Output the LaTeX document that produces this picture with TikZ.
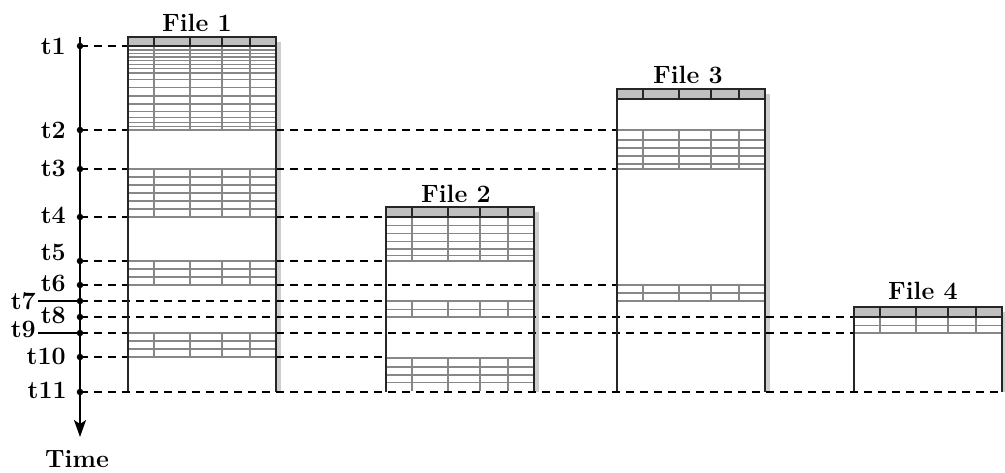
\documentclass[tikz,border=0pt]{standalone}
\usetikzlibrary{arrows.meta}
\definecolor{hdrgray}{RGB}{192,192,192}
\definecolor{linegray}{RGB}{135,135,135}
\definecolor{shadegray}{RGB}{205,205,205}
\newcommand\tblock[4]{%
  \fill[white] (#1,#2) rectangle ({#1+148},#3);
  \foreach \yy in {#4} \draw[rowln] (#1,\yy) -- ({#1+148},\yy);
  \foreach \cc in {26,62,94,122} \draw[colln] ({#1+\cc},#2) -- ({#1+\cc},#3);
}
\newcommand\fhead[3]{%
  \fill[hdrgray] (#1,#2) rectangle ({#1+148},#3);
  \foreach \cc in {26,62,94,122} \draw[hdrln] ({#1+\cc},#2) -- ({#1+\cc},#3);
  \draw[hdrln] (#1,#3) -- ({#1+148},#3);
  \draw[boxln] (#1,392) -- (#1,#2) -- ({#1+148},#2) -- ({#1+148},392);
}
\newcommand\fshadow[2]{\fill[shadegray] ({#1+149},{#2+5}) rectangle ({#1+153},392);}
\begin{document}
\begin{tikzpicture}[x=1pt,y=-1pt,
  lbl/.style={font=\fontsize{25}{27}\selectfont\bfseries, inner sep=0pt},
  tick/.style={lbl, anchor=east},
  flabel/.style={lbl, anchor=base},
  dashln/.style={line width=1.8pt, dash pattern=on 8pt off 6pt},
  boxln/.style={line width=2pt, black!85},
  rowln/.style={line width=1.6pt, linegray},
  colln/.style={line width=2.2pt, linegray},
  hdrln/.style={line width=2pt, black!85},
  axisln/.style={line width=2pt, -{Stealth[length=17pt,width=12pt,inset=4pt]}},
  dotst/.style={circle, fill=black, inner sep=0pt, minimum size=6.5pt},
  lead/.style={line width=1.8pt},
]
\useasboundingbox (0,0) rectangle (1005,472);
% shadows
\fshadow{128}{37}
\fshadow{386}{207}
\fshadow{617}{89}
\fshadow{854}{307}
% axis points
\coordinate (p1) at (80,46);
\coordinate (p2) at (80,130);
\coordinate (p3) at (80,169);
\coordinate (p4) at (80,217);
\coordinate (p5) at (80,261);
\coordinate (p6) at (80,285);
\coordinate (p7) at (80,301);
\coordinate (p8) at (80,317);
\coordinate (p9) at (80,333);
\coordinate (p10) at (80,357);
\coordinate (p11) at (80,392);
% targets
\coordinate (q1) at (128,46);
\coordinate (q2) at (617,130);
\coordinate (q3) at (617,169);
\coordinate (q4) at (386,217);
\coordinate (q5) at (386,261);
\coordinate (q6) at (617,285);
\coordinate (q7) at (386,301);
\coordinate (q8) at (854,317);
\coordinate (q9) at (854,333);
\coordinate (q10) at (386,357);
\coordinate (q11) at (1002,392);
\foreach \i in {1,...,10} \draw[dashln] (p\i) -- (q\i);
% File 1
\tblock{128}{46}{130}{50,53.5,57,60.5,64.5,68.5,73,79.5,87.5,96,104,111.5,117.5,122.5,126.5,130}
\tblock{128}{169}{217}{169,177,185,193,201,209,217}
\tblock{128}{261}{285}{261,269,277,285}
\tblock{128}{333}{357}{333,341,349,357}
\fhead{128}{37}{46}
% File 2
\tblock{386}{217}{261}{225.5,233.5,241.5,249,255.5,261}
\tblock{386}{301}{317}{301,309.5,317}
\tblock{386}{358}{391}{358,367,375,382.5}
\fhead{386}{207}{217}
% File 3
\tblock{617}{130}{169}{130,140,148,156,164,169}
\tblock{617}{285}{301}{285,293,301}
\fhead{617}{89}{99}
% File 4
\tblock{854}{317}{333}{325.5,333}
\fhead{854}{307}{317}
\draw[dashln] (p11) -- (q11);
% file labels
\node[flabel] (f1) at (197,31) {File 1};
\node[flabel] (f2) at (456,202) {File 2};
\node[flabel] (f3) at (688,83) {File 3};
\node[flabel] (f4) at (923,299) {File 4};
% axis
\coordinate (atop) at (80,37);
\coordinate (abot) at (80,437);
\draw[axisln] (atop) -- (abot);
\foreach \i in {1,...,11} \node[dotst] (d\i) at (p\i) {};
% tick labels
\node[tick] (l1) at (66,46) {t1};
\node[tick] (l2) at (66,130) {t2};
\node[tick] (l3) at (66,168.5) {t3};
\node[tick] (l4) at (66,215.5) {t4};
\node[tick] (l5) at (66,252.5) {t5};
\node[tick] (l6) at (66,283.5) {t6};
\node[tick] (l7) at (36,301.5) {t7};
\node[tick] (l8) at (66,315.5) {t8};
\node[tick] (l9) at (36,329.5) {t9};
\node[tick] (l10) at (66,356.5) {t10};
\node[tick] (l11) at (67,390) {t11};
\draw[lead, shorten <=2pt] (l7.east |- p7) -- (p7);
\draw[lead, shorten <=2pt] (l9.east |- p9) -- (p9);
\node[lbl] (time) at (77,459) {Time};
\end{tikzpicture}
\end{document}
